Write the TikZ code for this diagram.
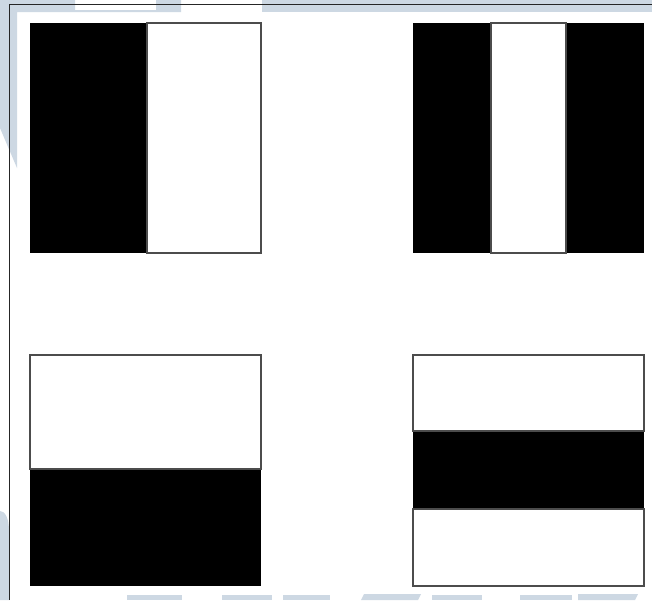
\documentclass[tikz,border=0pt]{standalone}
\usepackage{tikz}
\definecolor{markblue}{RGB}{205,216,227}
\tikzset{
  wmark/.style={fill=markblue,draw=none},
  stripe/.style={fill=black,draw=none},
  gap/.style={fill=white,draw=black!70,line width=1.1pt},
}
\begin{document}
\begin{tikzpicture}[x=1pt,y=-1pt,line width=.8pt]
\path[use as bounding box,fill=white] (0,0) rectangle (652,600);
\fill[wmark] (0,0) -- (75,0) -- (75,10) -- (156,10) -- (156,0) -- (181,0) -- (181,12) -- (17,12) -- (17,168) -- (0,128) -- cycle;
\fill[wmark] (262,0) rectangle (652,12);
\fill[wmark] (0,600) -- (0,511) .. controls (5,511) and (9,518) .. (9,531) -- (9,600) -- cycle;
\foreach \xa/\xb in {127/182,222/272,283/330,432/482,520/572}
  \fill[wmark] (\xa,595) rectangle (\xb,600);
\fill[wmark] (361,600) -- (364,594) -- (421,594) -- (418,600) -- cycle;
\fill[wmark] (578,600) -- (578,594) -- (638,594) -- (635,600) -- cycle;
\draw[black!85] (9.5,600) -- (9.5,4.5) -- (652,4.5);
\fill[stripe] (30,23) rectangle (261,253);
\draw[gap] (147,23) rectangle (261,253);
\fill[stripe] (413,23) rectangle (644,253);
\draw[gap] (491,23) rectangle (566,253);
\fill[stripe] (30,355) rectangle (261,586);
\draw[gap] (30,355) rectangle (261,469);
\fill[stripe] (413,355) rectangle (644,586);
\draw[gap] (413,355) rectangle (644,431);
\draw[gap] (413,509) rectangle (644,586);
\end{tikzpicture}
\end{document}
